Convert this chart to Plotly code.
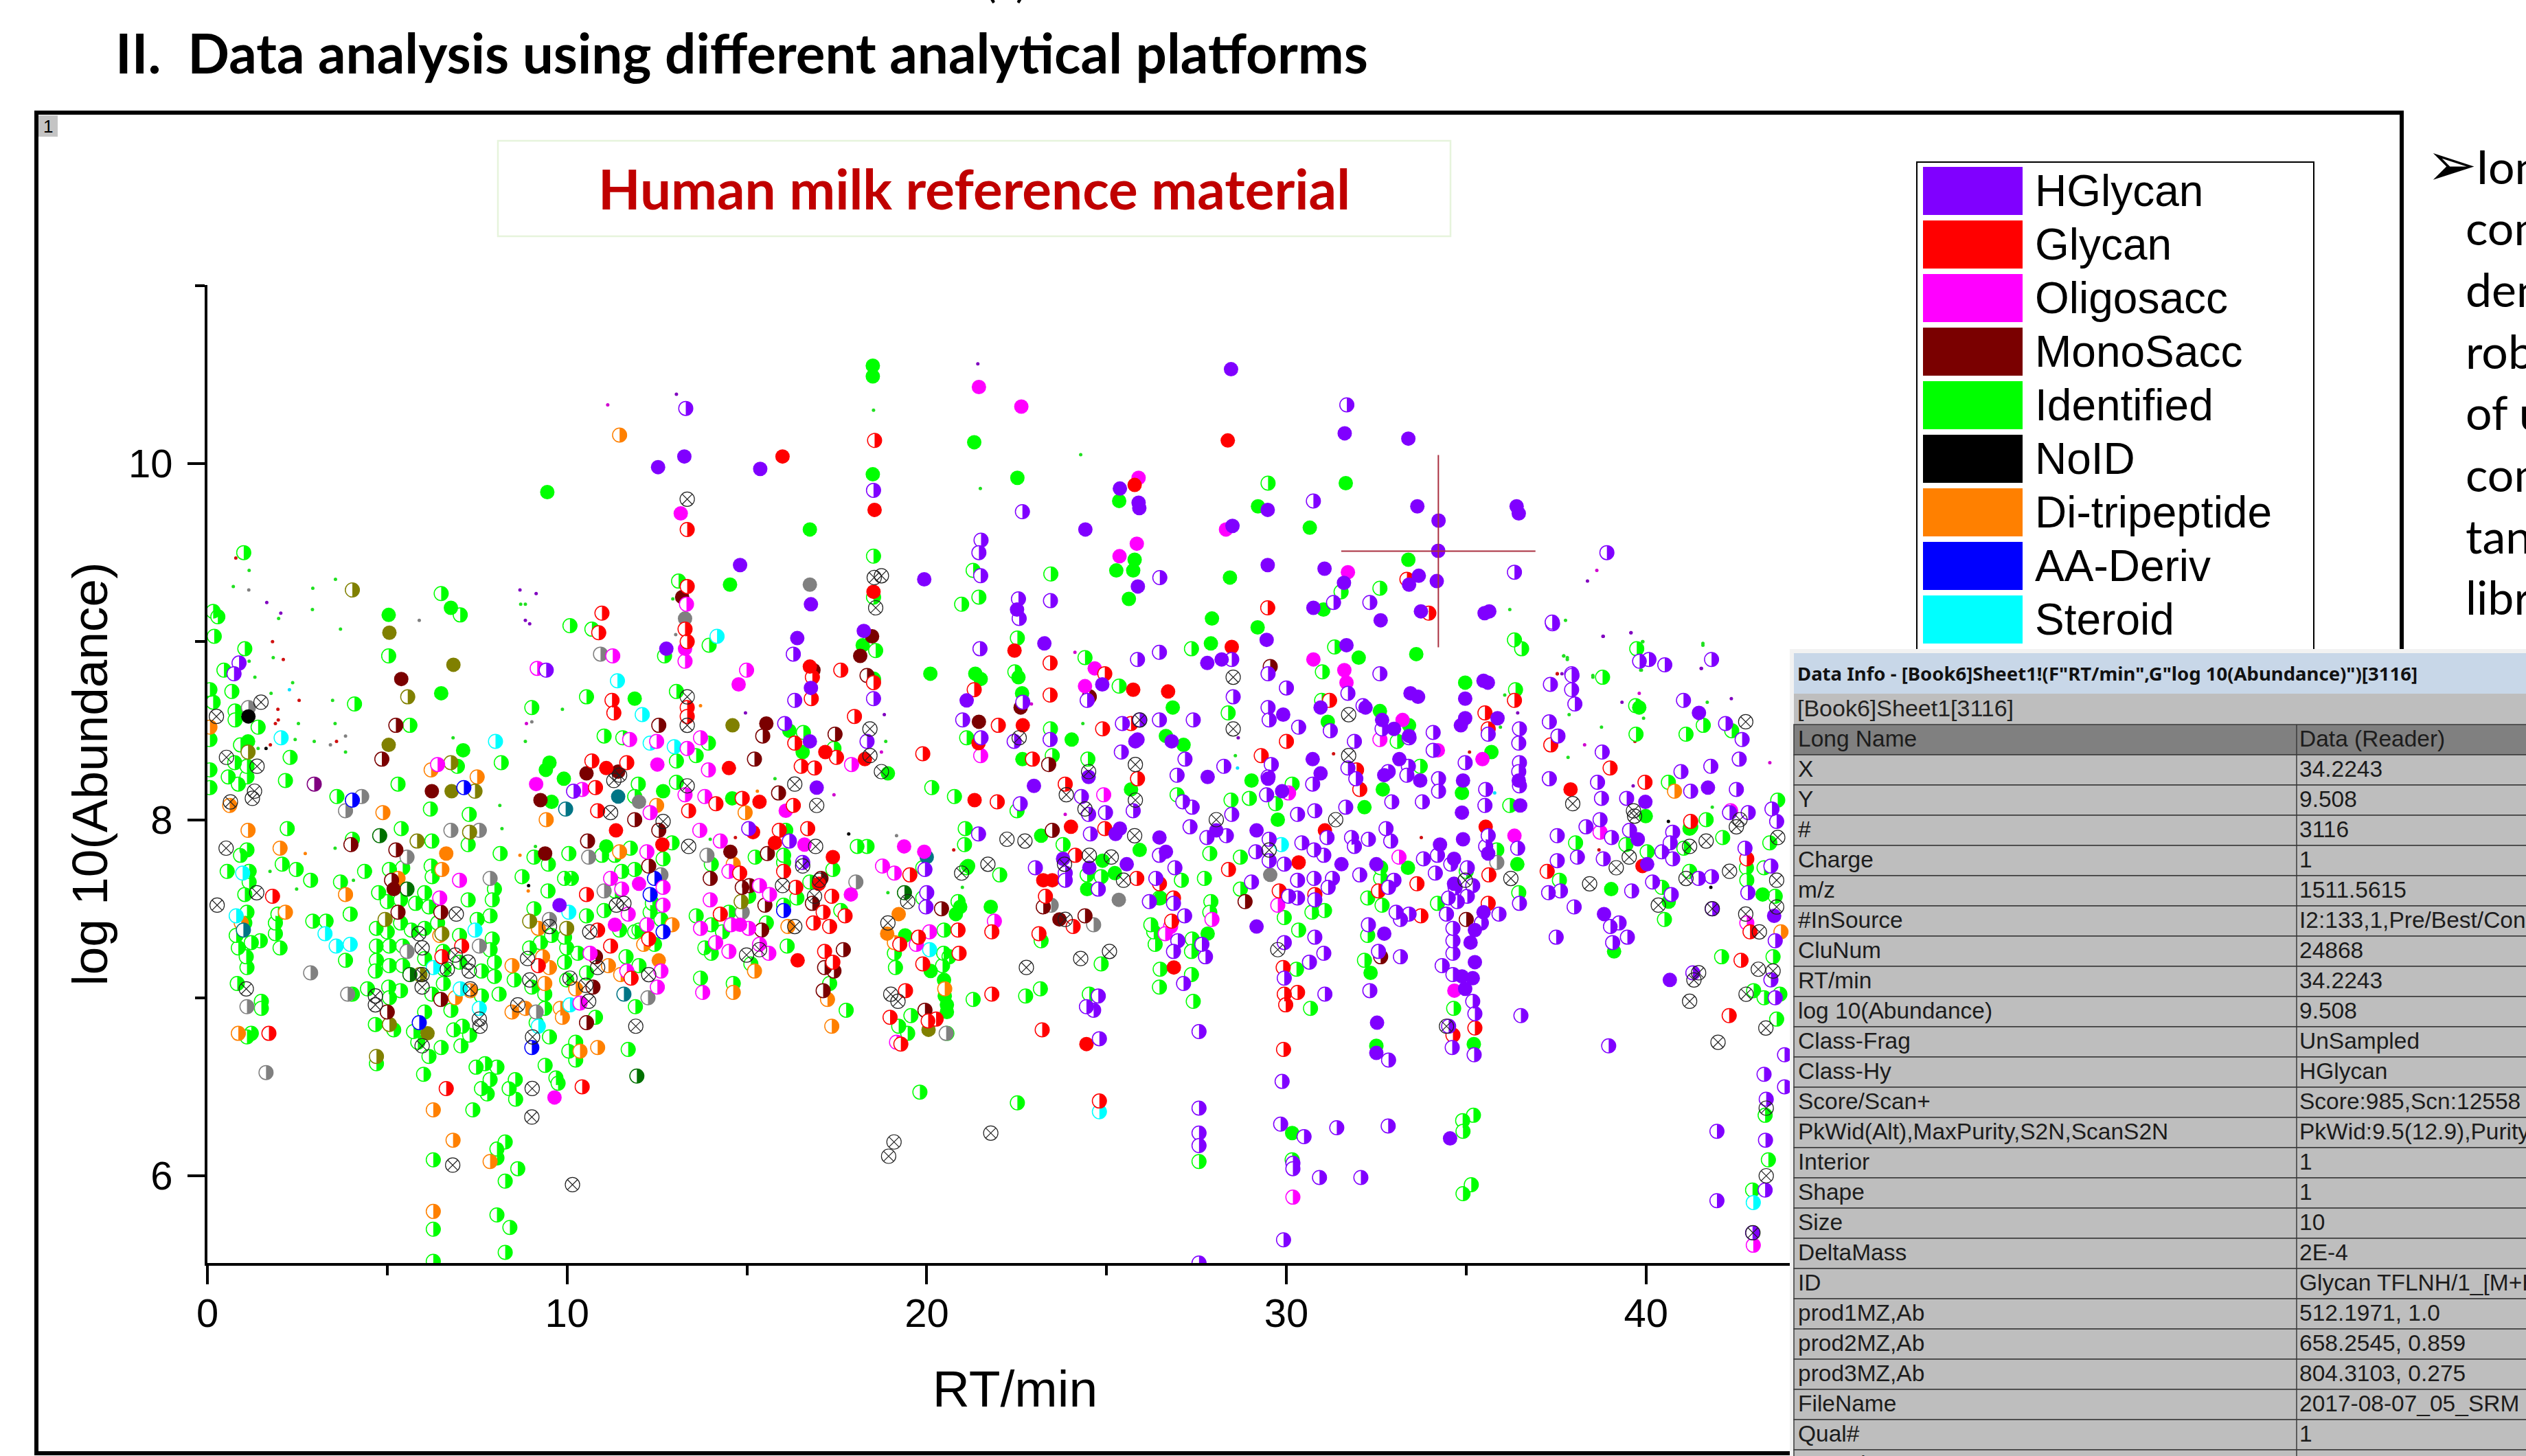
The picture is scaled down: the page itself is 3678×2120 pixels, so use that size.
import math
import numpy as np
import plotly.graph_objects as go

W, H = 3678, 2120
PAGE_TITLE = "II.  Data analysis using different analytical platforms"
CHART_TITLE = "Human milk reference material"
X_TITLE = "RT/min"
Y_TITLE = "log 10(Abundance)"

legend_names = ["HGlycan", "Glycan", "Oligosacc", "MonoSacc", "Identified", "NoID", "Di-tripeptide", "AA-Deriv", "Steroid"]
legend_colors = ["#8000FF", "#FF0000", "#FF00FF", "#7A0000", "#00FF00", "#000000", "#FF8000", "#0000FF", "#00FFFF"]

side_lines = ["Ion", "com", "den", "rob", "of u", "com", "tan", "libr"]

info_title = 'Data Info - [Book6]Sheet1!(F"RT/min",G"log 10(Abundance)")[3116]'
info_sheet = "[Book6]Sheet1[3116]"
info_names = ["Long Name", "X", "Y", "#", "Charge", "m/z", "#InSource", "CluNum", "RT/min", "log 10(Abundance)",
              "Class-Frag", "Class-Hy", "Score/Scan+", "PkWid(Alt),MaxPurity,S2N,ScanS2N", "Interior", "Shape", "Size",
              "DeltaMass", "ID", "prod1MZ,Ab", "prod2MZ,Ab", "prod3MZ,Ab", "FileName", "Qual#", "Intensity"]
info_values = ["Data (Reader)", "34.2243", "9.508", "3116", "1", "1511.5615", "I2:133,1,Pre/Best/Cons", "24868", "34.2243", "9.508",
               "UnSampled", "HGlycan", "Score:985,Scn:12558", "PkWid:9.5(12.9),Purity", "1", "1", "10",
               "2E-4", "Glycan TFLNH/1_[M+H]", "512.1971, 1.0", "658.2545, 0.859", "804.3103, 0.275", "2017-08-07_05_SRM", "1", "10"]

cross_x = 34.2243
cross_y = 9.508
cross_dx = 2.7
cross_dy = 0.54

identified_half = [(1.01,9.50),(.16,9.17),(.29,9.14),(.19,9.03),(1.04,8.96),(.46,8.84),(.68,8.72),(.07,8.73),(.16,8.66),(.77,8.61),(.77,8.56),(1.41,8.52),(.07,8.45),(.92,8.42),(.07,8.28),(.76,8.32),(.58,8.24),(.86,8.20),(.07,8.18),(1.1,8.24),(1.1,8.30),(2.3,8.35),(2.17,8.22),(3.6,8.13),(5.04,8.92),(6.5,9.27),(7.03,9.15),(4.09,8.65),(5.63,8.53),(5.3,8.2),(6.2,8.06),(6.95,8.3),(7.28,8.03),(8.17,8.32),(9.02,8.63),(10.08,9.09),(10.69,9.07),(10.54,8.69),(13.04,8.72),(13.1,9.34),(13.95,8.98),(12.71,8.92),(13.04,8.33),(13.59,8.36),(11.03,8.47),(11.55,8.46),(13.93,8.43),(16.57,8.49),(11.98,8.20),(11.88,8.13),(13.04,8.21),(18.52,9.48),(18.52,9.25),(18.58,8.95),(17.42,8.40),(18.52,8.79),
(6.28,5.52),(8.28,5.57),(6.28,5.70),(8.41,5.71),(8.05,5.78),(8.28,5.97),(8.63,6.04),(8.05,6.10),(8.05,6.15),(8.28,6.19),(6.28,6.09),(7.38,6.37),(8.57,6.43),(7.78,6.46),(7.62,6.49),(8.39,6.49),(8.56,6.54),(7.86,6.54),(6.01,6.57),(8.05,6.61),(7.72,6.63),(7.47,6.61),(9.39,6.62),(9.69,6.55),(9.75,6.52),(10.24,6.65),(10.05,6.70),(10.24,6.75),(11.7,6.71),(6.16,6.67),(4.7,6.63),(5.85,6.75),(6.5,6.72),(7.05,6.73),(7.29,6.79),(6.85,6.82),(7.09,6.84),(5.73,6.81),(4.67,6.85),(5.18,6.82),(6.04,6.92),(6.77,6.93),(9.38,6.94),(9.14,6.86),(9.51,6.78),(10.79,6.89),(11.9,6.95),(8.11,7.02),(7.62,7.01),(6.24,7.02),(6.56,7.08),(4.03,7.02),(5.37,7.04),(4.45,7.05),(5.04,7.06),(5.06,7.0),(1.1,7.17),(.83,7.08),(1.5,6.98),(1.5,6.94),(1.22,6.80),(1.1,6.78),(3.84,7.21),(2.02,7.28),(1.89,7.36),(1.89,7.42),(1.96,7.47),(2.93,7.43),(3.3,7.43),(3.97,7.47),(1.47,7.32),(1.22,7.31),(.86,7.28),(1.08,7.23),(.8,7.35),(1.04,7.42),(1.1,7.48),(1.04,7.58),(1.16,7.65),(.55,7.71),(1.16,7.71),(.92,7.80),(1.1,7.83),(2.08,7.75),(2.47,7.72),(2.87,7.66),(3.7,7.65),(4.37,7.71),(4.03,7.89),(5.39,7.95),(6.24,7.88),(7.25,7.86),(8.14,7.81),(2.22,7.95),(5.43,7.73),(5.06,7.72),(6.22,7.74),(6.25,7.68),(4.76,7.59),(5.0,7.54),(5.37,7.55),(5.79,7.53),(6.04,7.59),(6.16,7.51),(7.25,7.55),(7.98,7.61),(7.92,7.55),(7.86,7.46),(7.5,7.44),(4.7,7.39),(5.37,7.42),(5.67,7.38),(5.0,7.37),(4.7,7.29),(5.06,7.29),(5.43,7.29),(6.04,7.39),(6.4,7.42),(7.01,7.35),(7.92,7.33),(7.86,7.27),(4.7,7.21),(4.67,7.15),(5.06,7.18),(5.43,7.18),(6.04,7.22),(6.55,7.26),(6.58,7.16),(7.01,7.2),(7.62,7.15),(7.98,7.2),(7.98,7.12),(8.53,7.1),(9.02,7.06),(9.38,7.02),(9.99,7.1),(8.96,7.28),(9.26,7.31),(9.99,7.28),(10.3,7.25),(9.93,7.2),(10.54,7.14),(11.64,7.23),(12.0,7.18),(11.46,7.38),(11.88,7.37),(12.43,7.30),(13.71,7.11),(14.62,7.08),(15.11,7.19),(16.12,7.29),(13.83,7.28),(14.01,7.25),(14.32,7.37),(14.01,7.41),(14.5,7.48),(13.59,7.46),(15.54,7.42),(16.02,7.52),(16.39,7.56),(15.05,7.57),(17.3,7.08),(17.36,7.19),(17.76,6.93),(17.61,7.49),(17.39,7.72),(16.02,7.76),(16.75,7.65),(18.07,7.85),(18.34,7.85),(12.67,7.78),(11.76,7.84),(11.88,7.72),(11.52,7.71),(12.92,7.87),(14.01,7.75),(15.23,7.79),(16.02,7.80),(16.08,7.94),(10.05,7.81),(9.48,7.75),(8.75,7.68),(9.08,7.79),(9.93,7.67),(10.12,7.67),(9.47,7.60),(9.08,7.50),(10.54,7.46),(9.57,7.35),(9.93,7.34),(10.97,7.80),(11.33,7.80),(12.31,7.48),(12.0,7.38),(11.03,7.49),(11.33,7.60),(12.37,7.53),(12.61,7.44),
(29.49,9.89),(23.45,9.38),(21.29,9.40),(21.45,9.25),(20.97,9.21),(32.6,9.30),(31.52,9.28),(36.34,9.01),(36.54,8.96),(22.52,9.02),(27.36,8.96),(31.34,8.97),(24.4,8.91),(22.45,8.83),(25.35,8.75),(31.0,8.83),(36.37,8.73),(30.98,8.67),(28.38,8.6),(23.44,8.51),(21.11,8.46),(23.49,8.36),(24.48,8.34),(33.72,8.30),(33.08,8.44),(20.14,8.18),(20.77,8.13),(28.46,8.11),(28.97,8.12),(30.16,8.2),(26.96,8.14),(29.7,8.09),(22.51,8.05),(36.21,8.08),
(39.74,8.96),(38.79,8.80),(39.71,8.64),(39.72,8.48),(41.11,8.48),(41.59,8.53),(42.38,8.50),(40.62,8.21),(41.67,8.0),(38.04,7.87),(42.13,7.90),(39.44,7.86),(41.24,7.96),(41.05,7.84),(40.03,7.82),(41.21,7.71),(40.44,7.62),(40.51,7.44),(42.1,7.23),(42.79,7.73),(42.8,7.66),(42.99,7.04),(43.28,7.0),(43.72,7.02),(43.53,7.23),(43.63,6.88),(43.4,6.09),(42.96,5.92),(43.31,6.34),(43.44,7.87),(43.28,7.73),(43.66,8.11),(43.59,7.57),
(19.81,6.47),(22.52,6.41),(27.57,6.08),(30.16,6.09),(34.91,5.90),(35.14,5.95),(35.2,6.34),(34.9,6.31),(34.91,6.25),(34.65,6.94),(30.67,6.94),(27.41,6.98),(26.47,7.06),(26.49,7.16),(27.36,7.13),(24.52,7.02),(23.16,7.05),(22.75,7.01),(21.29,6.99),(24.85,7.19),(23.18,7.32),(19.56,6.9),(20.56,6.80),(19.47,6.80),(19.22,6.84),(19.13,7.17),(20.44,7.18),(19.1,7.25),(20.47,7.25),(20.62,7.23),(20.48,7.38),(21.11,7.73),(21.05,7.86),(21.07,7.95),(22.03,7.69),(23.79,7.86),(24.46,7.69),(24.85,7.68),(27.08,7.66),(27.72,7.67),(27.9,7.54),(27.87,7.48),(27.38,7.33),(27.36,7.26),(26.35,7.30),(26.31,7.37),(26.23,7.41),(26.47,7.56),(28.72,7.79),(27.87,7.81),(28.72,7.61),(29.94,7.45),(30.34,7.38),(30.71,7.48),(31.06,7.49),(32.17,7.21),(32.26,7.56),(32.26,7.35),(32.66,7.52),(32.62,7.67),(32.62,7.73),(34.2,7.53),(35.0,7.71),(36.46,7.59),(37.59,7.66),(30.28,7.16),(35.85,7.83),(20.87,7.54),(19.89,7.73),(19.89,7.56)]
identified_full = [(6.77,9.19),(5.04,9.15),(6.5,8.71),(9.45,9.84),(16.75,9.63),(14.53,9.32),(18.5,10.55),(18.5,10.49),(18.5,9.94),(7.11,8.39),(11.88,8.68),(9.51,8.32),(9.41,8.28),(9.91,8.23),(12.67,8.16),(18.22,8.98),(16.18,8.50),(16.55,8.38),(14.59,8.12),(9.57,8.10),(1.13,8.44),(11.09,7.85),
(21.32,10.12),(22.52,9.92),(25.35,9.79),(29.21,9.76),(31.65,9.89),(30.65,9.64),(25.78,9.46),(25.27,9.40),(25.74,9.40),(33.39,9.46),(28.43,9.36),(25.62,9.24),(31.03,9.18),(27.93,9.13),(29.2,9.08),(27.9,8.99),(33.61,8.93),(32.01,8.91),(20.1,8.82),(21.35,8.82),(21.5,8.79),(26.84,8.63),(22.55,8.80),(22.65,8.71),(32.6,8.61),(34.97,8.77),(31.15,8.55),(33.41,8.53),(35.7,8.38),(24.03,8.45),(27.14,8.42),(26.65,8.47),(22.66,8.34),(29.03,8.22),(32.68,8.17),(32.17,8.07),(25.68,8.17),(18.92,8.26),(29.76,8.0),(34.88,8.15),
(39.03,7.61),(39.11,7.26),(40.63,7.54),(43.24,7.58),(39.99,8.02),(41.21,7.95),(39.81,8.63),
(21.78,7.51),(20.81,7.47),(20.93,7.51),(27.81,7.36),(24.89,7.77),(25.92,7.83),(25.23,7.70),(21.15,7.74),(23.18,7.91),(33.38,7.73),(32.34,7.14),(35.21,6.74),(30.16,6.24),(32.5,6.73),(36.42,7.75),(20.11,7.15),(20.48,7.10),(20.5,7.01),(20.56,6.96),(20.56,6.92),(19.4,7.35),(24.46,7.61),(26.5,7.56)]

orange_half = [(11.46,10.16),(7.5,8.24),(6.22,8.28),(4.88,8.04),(.62,8.08),(12.49,8.08),(9.42,8.0),(14.95,8.04),(.07,8.52),(.86,6.8),(6.28,6.37),(6.83,6.20),(6.28,5.80),(7.86,6.08),(10.85,6.72),(8.47,6.92),(9.81,6.94),(9.87,6.89),(10.24,7.05),(9.38,7.08),(9.51,7.17),(9.32,7.23),(8.47,7.18),(8.84,6.94),(11.15,7.18),(11.49,7.13),(10.36,6.70),(14.62,7.03),(17.24,6.99),(17.36,6.84),(15.21,7.15),(12.92,7.41),(12.13,7.30),(16.14,7.40),(9.2,7.39),(6.46,7.35),(7.31,7.04),(6.89,7.0),(5.3,7.67),(6.52,7.72),(3.84,7.58),(2.17,7.48),(2.02,7.84),(1.13,7.94),(.94,7.42),(14.62,7.75),(11.46,7.82),(40.79,8.16),(43.75,7.37),(19.1,7.31),(20.5,7.05)]
orange_full = [(12.55,7.21),(6.64,7.81),(19.22,7.47),(18.9,7.36)]
gray_half = [(10.93,8.93),(4.29,8.13),(3.84,8.05),(1.14,8.63),(1.63,6.58),(2.87,7.14),(1.1,6.95),(3.9,7.02),(7.86,7.67),(6.77,7.94),(7.56,7.94),(5.55,7.79),(12.25,7.0),(12.61,7.69),(18.03,7.65),(5.55,7.26),(7.56,7.29),(10.6,7.79),(11.03,7.60),(9.51,7.44),(9.14,6.92),(13.89,7.80),(14.87,7.48),(35.85,7.76),(23.46,7.52),(24.64,7.41),(20.54,6.80)]
gray_full = [(16.75,9.32),(13.28,9.13),(12.0,8.1),(25.34,7.55),(29.55,7.69)]
olive_half = [(4.03,9.29),(5.57,8.69),(1.13,8.38),(7.44,8.16),(6.77,8.32),(4.7,6.67),(5.06,6.85),(5.91,7.13),(8.96,7.43),(4.94,7.44),(6.52,7.36),(7.29,7.93),(5.83,7.88),(9.99,7.39),(14.84,7.54)]
olive_full = [(5.06,9.05),(6.84,8.87),(5.04,8.42),(6.79,8.16),(14.6,8.53),(6.12,6.80),(20.05,6.82)]
cyan_half = [(11.4,8.78),(14.17,9.03),(2.05,8.46),(8.01,8.44),(12.09,8.59),(12.98,8.41),(12.31,8.43),(3.27,7.36),(3.58,7.29),(3.97,7.30),(.98,7.70),(.8,7.46),(7.44,7.38),(7.03,7.05),(7.56,6.94),(10.05,7.48),(10.08,6.96),(9.2,6.84),(6.28,7.17),(42.98,5.85),(20.08,7.27),(24.8,6.36),(29.86,7.86)]
blue_half = [(4.03,8.11),(7.13,8.18),(5.89,6.86),(9.02,6.72),(12.67,7.37),(12.31,7.58),(12.43,7.67),(16.02,7.49)]
teal_half = [(9.96,8.06),(1.0,7.38),(11.58,7.02)]
teal_full = [(11.42,8.13),(20.0,7.79)]
darkgreen_half = [(4.79,7.91),(5.55,7.61),(5.63,7.13),(11.94,6.56),(19.38,7.59)]
darkpurple_half = [(2.97,8.2)]
black_full = [(1.14,8.58)]
maroon_half = [(5.24,8.53),(4.85,8.34),(12.55,8.53),(15.44,8.47),(17.45,8.48),(15.21,8.34),(15.88,8.15),(18.34,8.81),(11.88,8.0),(10.54,6.86),(10.72,7.06),(5.0,6.92),(6.49,6.99),(5.12,7.66),(5.3,7.48),(5.24,7.83),(6.49,7.48),(10.79,7.23),(13.98,7.67),(12.27,7.74),(12.55,7.94),(10.57,7.88),(15.41,7.38),(15.5,7.52),(16.82,7.53),(15.57,7.81),(17.12,7.04),(17.42,7.15),(17.68,7.27),(17.06,7.67),(14.87,7.62),(17.16,7.17),(15.07,7.63),(3.99,7.86),(23.39,8.31),(29.55,8.86),(24.52,8.69),(20.41,7.50),(23.24,7.51),(28.85,7.54),(32.62,7.23),(35.0,7.44),(19.95,6.93),(23.49,7.94),(24.4,7.46)]
maroon_full = [(5.39,8.79),(6.24,8.16),(13.2,9.25),(10.54,8.26),(9.26,8.11),(16.85,8.84),(15.54,8.54),(18.48,9.03),(18.15,8.92),(11.42,8.27),(5.18,7.61),(9.39,7.81),(14.54,7.82),(21.45,8.55),(22.61,8.63),(23.69,7.44)]
magenta_half = [(13.32,9.21),(11.27,8.92),(13.28,8.89),(14.99,8.84),(9.17,8.85),(6.4,8.31),(12.49,8.44),(13.34,8.40),(11.74,8.45),(13.71,8.46),(13.93,8.28),(10.42,8.17),(17.91,8.31),(12.31,8.04),(13.28,8.14),(13.83,8.13),
(7.01,7.66),(6.46,7.56),(12.22,7.82),(11.21,7.67),(11.52,7.61),(11.7,7.47),(12.67,7.62),(12.67,7.52),(12.22,7.41),(12.61,7.15),(12.51,7.06),(11.66,7.15),(10.64,7.25),(10.36,6.97),(13.77,7.03),(14.26,7.88),(13.69,7.94),(14.5,7.71),(13.98,7.55),(15.35,7.63),(15.63,7.58),(14.56,7.41),(15.05,7.39),(13.71,7.39),(14.13,7.31),(14.5,7.26),(15.35,7.30),(15.61,7.25),
(21.5,8.36),(32.6,8.45),(24.92,8.14),(30.06,8.15),(38.72,7.93),(42.8,7.42),(42.98,5.61),(42.35,8.05),(19.1,7.70),(18.77,7.74),(21.88,7.43),(29.76,7.52),(30.18,5.88),(19.16,6.75),(27.93,7.44),(26.78,7.40),(33.13,7.79),(19.71,7.30),(26.63,7.36),(20.08,7.37)]
magenta_full = [(13.16,9.72),(14.77,8.76),(13.28,8.96),(9.14,8.2),(12.51,8.31),(16.08,8.05),(9.65,6.44),(12.0,7.64),(14.81,7.41),(16.6,7.86),(17.89,7.58),(11.33,7.41),
(21.45,10.43),(22.63,10.32),(25.89,9.92),(25.84,9.55),(25.36,9.48),(28.32,9.63),(31.71,9.39),(30.75,8.9),(31.61,8.84),(31.67,8.77),(24.67,8.85),(24.4,8.75),(35.45,8.34),(33.23,8.56),(34.21,8.39),(19.37,7.85),(19.93,7.82),(36.34,7.91),(34.67,7.04)]
red_half = [(13.34,9.63),(13.34,9.31),(13.28,9.07),(13.34,9.0),(10.97,9.16),(10.88,9.05),(18.55,10.13),(11.25,8.67),(11.3,8.6),(13.34,8.63),(13.34,8.58),(17.61,8.84),(16.82,8.80),(16.79,8.68),(17.99,8.58),(16.33,8.43),(16.51,8.30),(16.88,8.29),(10.69,8.33),(10.79,8.18),(11.66,8.32),(17.49,8.35),(18.52,8.77),(16.29,8.08),(14.14,8.09),(14.87,8.12),(13.38,8.05),(10.85,8.05),
(1.71,6.80),(6.64,6.49),(10.42,6.50),(1.81,7.57),(11.78,7.11),(12.27,7.33),(11.21,7.29),(10.85,7.38),(10.54,7.58),(6.52,7.23),(7.07,7.29),(9.2,7.18),(17.16,7.26),(17.39,7.2),(16.85,7.42),(17.3,7.40),(17.36,7.57),(17.73,7.46),(16.02,7.71),(14.8,7.70),(16.36,7.62),(14.26,7.47),(17.12,7.48),(16.69,7.95),(15.9,7.94),
(33.35,9.35),(29.48,9.19),(33.96,9.16),(23.43,8.88),(24.95,8.82),(21.32,8.73),(23.43,8.70),(31.2,8.67),(21.99,8.53),(24.89,8.51),(25.68,8.54),(35.52,8.60),(36.34,8.67),(30.0,8.44),(19.89,8.37),(22.94,8.34),(29.3,8.36),(23.85,8.2),(25.86,8.23),(32.04,8.17),(21.96,8.10),(37.35,8.42),(31.95,8.28),(35.61,8.51),
(39.0,8.29),(39.97,8.21),(42.64,7.21),(42.31,6.90),(41.24,7.99),(42.8,7.78),(42.89,7.37),
(24.8,6.42),(23.21,6.82),(29.92,6.71),(34.63,6.79),(35.24,6.83),(30.31,7.03),(29.94,7.02),(29.98,6.96),(29.91,7.17),(21.81,7.02),(19.41,7.04),(18.98,6.89),(20.04,6.87),(20.26,6.88),(19.28,6.74),(19.25,7.30),(20.9,7.25),(20.87,7.38),(21.81,7.37),(23.12,7.36),(24.07,7.40),(23.3,7.57),(26.86,7.56),(26.81,7.43),(25.84,7.67),(24.13,7.80),(28.39,7.72),(29.8,7.60),(30.79,7.58),(33.63,7.64),(33.74,7.46),(35.63,7.69),(37.25,7.71),(35.61,7.53),(32.56,7.60),(19.89,7.19),(19.77,7.34),(19.53,7.69),(24.95,7.95),(26.47,7.64)]
red_full = [(15.99,10.04),(18.55,9.74),(14.5,8.29),(11.09,8.29),(16.75,8.86),(17.18,8.38),(18.28,8.34),(18.52,9.28),(15.35,8.10),(11.36,7.94),(16.41,7.21),(12.65,7.86),(15.78,7.87),(17.39,7.79),(15.17,7.93),(17.0,7.64),
(28.37,10.13),(25.78,9.88),(28.48,8.97),(22.44,8.95),(25.74,8.73),(26.71,8.72),(22.67,8.53),(21.33,8.11),(21.44,8.43),(37.9,8.17),(39.9,7.74),(24.44,6.74),(26.87,7.17),(23.24,7.66),(23.49,7.66),(30.34,7.76),(24.01,7.96),(31.07,7.94),(35.54,7.96)]
hglycan_half = [(13.3,10.31),(18.52,9.85),(16.29,8.93),(9.42,8.84),(.88,8.88),(.74,8.82),(16.33,8.67),(16.05,8.54),(18.34,8.44),(18.52,8.68),(10.18,8.16),(15.05,7.95),(16.18,7.88),(16.55,7.76),
(31.68,10.33),(30.75,9.79),(22.66,9.73),(21.51,9.57),(21.45,9.50),(21.5,9.37),(26.48,9.36),(36.34,9.39),(31.31,9.22),(32.32,9.22),(22.55,9.24),(23.44,9.23),(22.57,9.13),(37.4,9.10),(21.48,8.96),(26.47,8.94),(25.86,8.9),(28.48,8.9),(32.6,8.82),(29.49,8.82),(30.0,8.74),(31.71,8.71),(24.46,8.67),(22.67,8.66),(28.52,8.69),(32.13,8.64),(37.34,8.76),(29.49,8.63),(29.52,8.56),(21.0,8.56),(25.44,8.54),(26.47,8.56),(27.41,8.56),(25.92,8.56),(30.34,8.52),(31.22,8.50),(32.66,8.51),(34.08,8.49),(36.48,8.51),(37.31,8.55),(21.51,8.46),(22.43,8.44),(23.43,8.45),(31.89,8.44),(33.41,8.46),(35.61,8.48),(36.46,8.43),(34.08,8.39),(37.55,8.47),(25.41,8.38),(27.18,8.34),(34.97,8.32),(31.71,8.29),(32.83,8.27),(33.39,8.30),(33.35,8.25),(36.48,8.32),(36.46,8.27),(26.96,8.25),(28.26,8.30),(29.58,8.31),(29.49,8.24),(31.93,8.23),(34.23,8.23),(37.31,8.23),(29.45,8.14),(30.73,8.2),(34.23,8.16),(35.54,8.17),(36.48,8.19),(27.12,8.10),(27.38,8.07),(28.48,8.03),(32.93,8.10),(31.65,8.07),(33.78,8.10),(30.79,8.05),(35.52,8.08),(22.6,8.09),(30.31,8.03),(24.97,8.04),(25.74,8.05),(24.3,8.13),(24.5,8.03),
(38.91,9.50),(37.39,9.11),(37.93,8.82),
(37.94,8.81),(37.93,8.73),(38.02,8.65),(39.82,8.89),(40.08,8.90),(40.52,8.87),(41.82,8.9),(41.04,8.67),(42.21,8.54),(42.67,8.45),(42.59,8.34),(38.78,8.38),(41.8,8.30),(40.97,8.27),(38.65,8.21),(38.76,8.12),(39.46,8.12),(41.24,8.16),(42.51,8.17),(38.72,8.0),(38.33,7.96),(39.04,7.90),(39.54,7.94),(38.09,7.79),(38.81,7.78),(40.44,7.82),(40.74,7.93),(40.67,7.87),(40.74,7.78),(40.18,7.65),(41.46,7.67),(41.82,7.68),(40.7,7.58),(39.6,7.6),(38.0,7.51),(39.01,7.40),(39.25,7.42),(39.48,7.34),(39.07,7.31),(38.96,6.73),(41.97,6.25),(41.97,5.86),(42.32,8.04),(42.84,8.04),(42.75,7.84),(41.3,7.14),(41.84,7.50),(43.32,6.2),(43.28,6.57),(43.34,6.43),(43.31,5.92),(42.96,5.68),(43.59,7.0),(43.59,7.32),(43.85,6.68),(43.85,6.5),(43.5,8.06),(43.63,7.99),(43.47,7.74),(42.83,7.59),(43.47,7.1),
(27.57,5.51),(29.92,5.64),(32.07,5.99),(30.92,5.99),(30.18,6.07),(30.18,6.04),(30.49,6.22),(31.4,6.27),(32.83,6.28),(29.84,6.29),(29.88,6.53),(27.57,6.38),(27.57,6.24),(27.57,6.17),(27.57,6.81),(36.52,6.90),(32.84,6.65),(35.22,6.68),(34.61,6.72),(24.8,6.77),(24.64,6.93),(24.44,6.95),(24.77,7.01),(32.32,7.04),(31.07,7.02),(29.94,7.11),(29.94,7.31),(31.04,7.25),(30.79,7.34),(30.64,7.2),(27.14,7.08),(27.75,7.23),(27.65,7.30),(26.98,7.32),(26.86,7.26),(33.17,7.23),(32.28,7.41),(32.56,7.26),(35.18,6.98),(35.24,6.91),(34.51,6.84),(34.33,7.18),(34.63,7.13),(34.63,7.25),(34.63,7.32),(34.63,7.39),(37.5,7.34),(34.51,7.56),(34.45,7.47),(33.41,7.47),(33.17,7.44),(33.05,7.48),(35.91,7.47),(35.03,7.57),(35.42,7.42),(37.29,7.59),(37.62,7.60),(36.48,7.53),(26.19,7.54),(26.86,7.53),(27.17,7.46),(19.98,7.51),(20.0,7.59),(19.95,7.72),(24.77,7.61),(23.85,7.70),(23.85,7.66),(23.02,7.73),(26.37,7.67),(26.9,7.73),(26.47,7.80),(24.55,7.92),(21.44,7.92),(27.32,7.96),(27.79,7.90),(28.33,7.91),(29.52,7.89),(29.15,7.82),(29.52,7.77),(29.94,7.75),(30.43,7.87),(30.77,7.83),(31.04,7.80),(31.13,7.90),(31.81,7.90),(32.28,7.89),(31.89,7.85),(32.9,7.88),(32.77,7.95),(33.81,7.78),(34.2,7.80),(35.54,7.85),(35.61,7.91),(36.43,7.84),(37.53,7.91),(37.53,7.77),(34.14,7.70),(32.99,7.66),(32.04,7.69),(31.28,7.67),(30.77,7.67),(30.31,7.66),(31.16,7.62),(29.03,7.65),(30.79,7.55),(30.31,7.56),(30.06,7.57),(32.84,7.62),(35.18,7.63),(34.69,7.62),(34.75,7.54),(35.03,7.73),(34.57,7.75)]
hglycan_full = [(12.53,9.98),(13.26,10.04),(15.37,9.97),(14.81,9.43),(16.78,9.21),(16.4,9.02),(18.25,9.06),(12.76,8.96),(16.75,8.44),(16.78,8.74),(16.94,8.18),(9.79,7.52),
(28.46,10.53),(31.62,10.17),(33.39,10.14),(33.64,9.76),(34.23,9.68),(34.22,9.51),(34.18,9.34),(36.4,9.76),(36.46,9.72),(29.48,9.74),(25.37,9.86),(25.89,9.78),(25.91,9.75),(24.41,9.63),(28.5,9.65),(29.48,9.43),(31.06,9.41),(31.6,9.33),(33.68,9.37),(33.41,9.32),(19.93,9.35),(25.87,9.31),(30.75,9.19),(32.62,9.12),(33.74,9.17),(35.51,9.16),(35.64,9.17),(29.45,9.01),(31.67,8.98),(23.27,8.99),(24.88,8.76),(27.8,8.88),(28.2,8.90),(21.11,8.67),(22.51,9.18),(35.48,8.78),(35.6,8.77),(33.45,8.71),(33.66,8.69),(34.97,8.68),(29.91,8.59),(30.95,8.63),(32.2,8.63),(32.66,8.56),(32.99,8.51),(33.41,8.47),(34.97,8.57),(34.85,8.53),(35.87,8.57),(25.86,8.45),(25.8,8.44),(26.81,8.44),(22.98,8.19),(27.81,8.24),(24.5,8.24),(30.73,8.34),(30.95,8.26),(29.49,8.23),(32.72,8.25),(33.14,8.34),(33.72,8.22),(34.91,8.22),(36.46,8.22),(29.88,8.16),(36.5,8.08),(34.88,8.04),
(41.47,8.6),(41.72,8.18),(39.98,8.1),(39.77,7.89),(40.03,7.75),(38.83,7.47),(40.66,7.1),(43.56,7.46),
(25.37,7.95),(26.47,7.90),(26.65,7.82),(25.56,7.75),(24.52,7.73),(25.25,7.92),(23.79,7.78),(29.17,7.40),(31.53,7.75),(29.17,7.94),(28.05,7.94),(34.27,7.86),(34.66,7.78),(34.91,7.89),(34.66,7.64),(32.52,6.86),(32.5,6.69),(34.55,6.21),(35.12,7.31),(32.72,7.36),(35.24,7.38),(35.48,7.48),(35.24,7.2),(35.18,7.11),(34.88,7.12),(34.97,7.05),(32.5,7.75),(35.61,7.81)]
noid_crossed = [(13.34,9.80),(.25,8.58),(1.49,8.66),(.53,8.35),(1.38,8.30),(1.31,8.16),(1.25,8.12),(.64,8.10),(13.34,8.69),(13.34,8.53),(13.34,8.19),(11.46,8.25),(11.3,8.22),(11.21,8.04),(16.33,8.20),(16.94,8.08),(18.42,8.51),(18.42,8.36),(18.54,9.36),(18.58,9.19),(12.67,7.99),
(.52,7.84),(1.37,7.59),(.27,7.52),(1.08,7.05),(4.67,7.01),(4.67,6.96),(5.88,7.36),(5.97,7.28),(6.89,7.24),(6.67,7.16),(7.25,7.2),(7.28,7.15),(5.97,7.06),(7.31,7.05),(7.56,6.88),(7.58,6.84),(5.97,6.73),(6.82,6.06),(9.03,6.49),(9.02,6.33),(10.15,5.95),(11.91,6.84),(9.04,6.78),(8.63,6.96),(10.08,7.11),(10.85,7.17),(12.27,7.13),(8.96,7.1),(8.9,7.22),(10.63,7.37),(10.6,6.98),(10.52,7.07),(11.37,7.52),(11.58,7.53),(13.38,7.85),(15.99,7.63),(16.33,7.40),(14.99,7.24),(15.35,7.27),(16.55,7.74),(16.88,7.57),(17.02,7.66),(16.91,7.85),(5.97,7.13),(6.92,7.47),(9.51,7.40),
(28.52,8.80),(28.52,8.51),(31.73,8.59),(25.92,8.56),(22.57,8.46),(24.5,8.27),(23.88,8.14),(25.8,8.31),(25.8,8.11),(31.73,8.36),(28.05,8.0),(31.37,8.0),(24.4,8.06),(18.74,8.27),(18.74,9.37),
(37.96,8.09),(39.65,8.05),(39.68,8.02),(39.17,7.73),(39.53,7.79),(38.43,7.64),(40.34,7.52),(41.11,7.67),(41.21,7.85),(41.67,7.88),(42.32,7.71),(41.84,7.50),(41.46,7.14),(41.33,7.10),(41.21,6.98),(42.0,6.75),(42.77,8.55),(42.51,7.96),(42.61,8.0),(43.66,7.9),(42.77,7.47),(43.15,7.37),(43.12,7.16),(43.53,7.15),(42.78,7.02),(43.33,6.83),(43.34,6.38),(43.34,6.0),(42.97,5.68),(43.63,7.66),(43.63,7.51),
(22.23,7.89),(22.73,7.88),(25.78,7.91),(21.7,7.75),(20.97,7.70),(24.52,7.80),(25.13,7.79),(23.83,7.75),(25.47,7.66),(19.47,7.54),(18.92,7.42),(19.0,7.02),(19.2,6.98),(24.28,7.22),(25.08,7.26),(22.77,7.17),(19.09,6.19),(18.94,6.11),(21.78,6.24),(29.76,7.27),(29.52,7.83),(36.24,7.67),(34.45,6.84),(34.97,7.66),(23.85,7.44)]

small_green = [(1.16,9.40),(.72,9.31),(2.93,9.30),(3.56,9.35),(1.98,9.13),(2.92,9.18),(3.7,9.07),(1.83,8.91),(1.16,8.89),(1.32,8.80),(2.37,8.77),(1.77,8.71),(3.48,8.67),(2.53,8.54),(3.55,8.54),(2.44,8.45),(2.97,8.44),(3.84,8.38),(1.41,8.40),(8.71,9.21),(8.84,9.21),(18.52,10.30),(6.83,8.46),(8.84,8.44),(9.87,8.62),(8.13,8.08),(12.94,9.24),(15.78,8.23),(3.55,7.84),(1.74,7.71),(4.06,7.66),(2.48,7.61),(9.12,7.85),(8.19,7.95),(13.98,7.89),(24.28,10.05),(21.49,9.86),(36.21,9.18),(24.34,8.54),(28.58,8.36),(35.95,8.52),(18.86,8.44),(37.71,8.92),(36.07,8.70),(37.76,9.12),(39.9,9.0),(41.58,8.98),(37.71,8.92),(37.81,8.9),(38.52,8.8),(39.85,8.84),(38.52,8.81),(37.86,8.59),(38.76,8.52),(39.93,8.57),(37.81,8.91),(37.83,8.35),(39.91,9.0),(39.87,8.84),(41.58,8.99),(41.7,8.66),(41.84,8.07),(20.99,7.62),(18.92,7.59)]
small_purple = [(1.65,9.22),(2.04,9.16),(8.69,9.29),(9.14,9.27),(8.84,9.12),(8.96,9.10),(13.04,10.39),(14.96,8.60),(21.42,10.56),(28.66,8.46),(18.82,8.59),(36.43,8.6),(38.37,9.34),(38.8,9.03),(39.58,9.05),(37.66,8.82),(41.53,8.85),(38.81,9.03),(39.58,9.05),(41.54,8.85),(39.33,8.66),(42.37,8.68),(39.64,8.19)]
small_red = [(.79,9.47),(1.81,9.0),(2.11,8.9),(2.55,8.67),(1.96,8.62),(1.97,8.56),(1.89,8.54),(1.75,8.42),(3.59,8.44),(31.31,8.37),(35.09,8.38),(37.53,8.82),(37.53,8.82),(39.69,8.44),(38.69,7.83),(20.75,7.83),(33.75,7.90),(14.68,7.90)]
small_magenta = [(11.13,10.33),(8.87,8.54),(17.42,8.14),(24.12,8.94),(22.91,8.65),(18.74,8.38),(23.85,8.03),(38.63,9.4),(38.29,8.42),(39.81,8.71),(43.44,8.32)]
small_gray = [(1.15,9.29),(3.42,8.42),(3.84,8.47),(5.89,9.12),(9.02,8.55),(13.02,9.04),(19.16,7.91)]
small_orange = [(13.71,8.64),(15.29,8.16),(2.72,7.81),(8.69,7.80),(8.92,7.6)]
small_cyan = [(2.28,8.73),(28.64,8.29),(35.79,8.15)]
small_black = [(1.63,8.40),(17.83,7.92),(8.93,7.63),(40.62,7.99),(41.8,7.62)]

PX_X = 52.37
PX_Y = 259.25
X_LEFT, X_RIGHT, Y_TOP, Y_BOTTOM = 302, 2654, 415, 1839


def xp(px):
    return px / W


def yp(py):
    return 1 - py / H


fig = go.Figure()
RADIUS = 10.5
ANGLES = np.linspace(-math.pi / 2, math.pi / 2, 11)


def half_traces(points, color):
    if not points:
        return
    xs = [p[0] for p in points]
    ys = [p[1] for p in points]
    fig.add_trace(go.Scatter(x=xs, y=ys, mode="markers", showlegend=False, hoverinfo="skip",
                             marker=dict(symbol="circle", size=20.5, color="white", line=dict(color=color, width=1.5))))
    px, py = [], []
    for x, y in points:
        px += [x + RADIUS / PX_X * math.cos(a) for a in ANGLES] + [None]
        py += [y + RADIUS / PX_Y * math.sin(a) for a in ANGLES] + [None]
    fig.add_trace(go.Scatter(x=px, y=py, mode="lines", fill="toself", fillcolor=color, showlegend=False,
                             hoverinfo="skip", line=dict(width=0, color=color)))


def full_trace(points, color):
    if points:
        fig.add_trace(go.Scatter(x=[p[0] for p in points], y=[p[1] for p in points], mode="markers", showlegend=False,
                                 marker=dict(symbol="circle", size=21, color=color, line=dict(width=0))))


def small_trace(points, color):
    fig.add_trace(go.Scatter(x=[p[0] for p in points], y=[p[1] for p in points], mode="markers", showlegend=False,
                             marker=dict(symbol="circle", size=5, color=color, line=dict(width=0))))


for pts, c in [(small_green, "#20E020"), (small_purple, "#8000C0"), (small_red, "#D01010"), (small_magenta, "#D000D0"),
               (small_gray, "#808080"), (small_orange, "#FF8000"), (small_cyan, "#00E0FF"), (small_black, "#000000")]:
    small_trace(pts, c)

half_traces(identified_half, "#00FF00")
full_trace(identified_full, "#00FF00")
half_traces(orange_half, "#FF8000")
full_trace(orange_full, "#FF8000")
half_traces(gray_half, "#808080")
full_trace(gray_full, "#808080")
half_traces(olive_half, "#808000")
full_trace(olive_full, "#808000")
half_traces(cyan_half, "#00FFFF")
half_traces(blue_half, "#0000FF")
half_traces(teal_half, "#007585")
full_trace(teal_full, "#007585")
half_traces(darkgreen_half, "#007000")
half_traces(darkpurple_half, "#800080")
full_trace(black_full, "#000000")
half_traces(maroon_half, "#7A0000")
full_trace(maroon_full, "#7A0000")
half_traces(magenta_half, "#FF00FF")
full_trace(magenta_full, "#FF00FF")
half_traces(red_half, "#FF0000")
full_trace(red_full, "#FF0000")
half_traces(hglycan_half, "#8000FF")
full_trace(hglycan_full, "#8000FF")
fig.add_trace(go.Scatter(x=[p[0] for p in noid_crossed], y=[p[1] for p in noid_crossed], mode="markers", showlegend=False,
                         marker=dict(symbol="circle-x-open", size=21, color="#222222", line=dict(width=1.2, color="#222222"))))

fig.add_trace(go.Scatter(x=[cross_x - cross_dx, cross_x + cross_dx, None, cross_x, cross_x],
                         y=[cross_y, cross_y, None, cross_y + cross_dy, cross_y - cross_dy],
                         mode="lines", showlegend=False, hoverinfo="skip", line=dict(color="#AA3040", width=2)))

shapes = []
annotations = []


def rect(x0, y0, x1, y1, fill=None, line=None, lw=0, layer="above"):
    shapes.append(dict(type="rect", xref="paper", yref="paper", x0=xp(x0), x1=xp(x1), y0=yp(y1), y1=yp(y0),
                       fillcolor=fill if fill else "rgba(0,0,0,0)", line=dict(color=line if line else "rgba(0,0,0,0)", width=lw), layer=layer))


def text(x, y, s, size, color="#000000", family="Liberation Sans", anchor="left", bold=False):
    annotations.append(dict(xref="paper", yref="paper", x=xp(x), y=yp(y), text=f"<b>{s}</b>" if bold else s, showarrow=False,
                            xanchor=anchor, yanchor="middle", align=anchor, borderpad=0,
                            font=dict(size=size, color=color, family=family)))


# outer frame, tag and chart title
rect(53, 164, 3497, 2116, None, "#000000", 6)
rect(56, 168, 84, 199, "#C4C4C4")
text(70, 184, "1", 26, anchor="center")
rect(725, 205, 2112, 344, "#FFFFFF", "#E6F4DC", 2.5, layer="below")
text(1418, 274, CHART_TITLE, 80, "#C00000", "Lato", "center", True)
text(167, 76, PAGE_TITLE, 80, "#000000", "Lato", "left", True)
text(1465, -28, "(a)", 62, "#000000", "Lato", "center")

# legend
rect(2791, 236, 3369, 1000, "#FFFFFF", "#000000", 2)
for i, (name, color) in enumerate(zip(legend_names, legend_colors)):
    top = 243 + i * 78
    rect(2800, top, 2945, top + 70, color)
    text(2962, top + 35, name, 64)

# side text
text(3570, 240, "➢", 88, family="DejaVu Sans", anchor="center")
for i, s in enumerate(side_lines):
    text(3604 if i == 0 else 3589, 241 + i * 89.7, s, 68, "#000000", "Lato")

# data-info window
TOP, HEAD, ROW = 945, 1055, 44
rect(2606, TOP, 3680, 2125, "#F2F2F2")
rect(2612, 951, 3680, 1010, "#C8D7E8")
rect(2612, 1010, 3680, 1055, "#BEBEBE")
text(2616, 980, info_title, 27.5, "#111111", "Noto Sans", bold=True)
text(2616, 1031, info_sheet, 34, "#222222")
for i, (name, value) in enumerate(zip(info_names, info_values)):
    y0 = HEAD + i * ROW
    rect(2612, y0, 3680, y0 + ROW, "#808080" if i == 0 else "#BEBEBE", "#3A3A3A", 1.5)
    text(2617, y0 + ROW / 2 - 2, name, 33.5, "#1C1C1C")
    text(3347, y0 + ROW / 2 - 2, value, 33.5, "#1C1C1C")
shapes.append(dict(type="line", xref="paper", yref="paper", x0=xp(3344), x1=xp(3344), y0=yp(2125), y1=yp(HEAD),
                   line=dict(color="#3A3A3A", width=1.5), layer="above"))

AXIS_FONT = dict(family="Liberation Sans", size=58, color="#000000")
fig.update_layout(
    width=W, height=H, margin=dict(l=0, r=0, t=0, b=0, pad=0, autoexpand=False), paper_bgcolor="white", plot_bgcolor="white",
    showlegend=False, shapes=shapes, annotations=annotations, hovermode=False,
    xaxis=dict(domain=[xp(X_LEFT), xp(X_RIGHT)], range=[0, (X_RIGHT - X_LEFT) / PX_X], dtick=10, tick0=0, ticks="outside", ticklen=27, tickwidth=4,
               tickcolor="#000000", showline=True, linecolor="#000000", linewidth=4, showgrid=False, zeroline=False,
               tickfont=AXIS_FONT, ticklabelstandoff=-8, automargin=False,
               minor=dict(dtick=5, tick0=0, ticks="outside", ticklen=14, tickwidth=4, tickcolor="#000000", showgrid=False),
               title=dict(text=X_TITLE, font=dict(family="Liberation Sans", size=75, color="#000000"), standoff=54)),
    yaxis=dict(domain=[yp(Y_BOTTOM), yp(Y_TOP)], range=[10 - (Y_BOTTOM - 675) / PX_Y, 10 - (Y_TOP - 675) / PX_Y], dtick=2, tick0=6,
               ticks="outside", ticklen=25, tickwidth=4, tickcolor="#000000", showline=True, linecolor="#000000", linewidth=4,
               showgrid=False, zeroline=False, tickfont=AXIS_FONT, ticklabelstandoff=10, automargin=False,
               minor=dict(dtick=1, tick0=5, ticks="outside", ticklen=14, tickwidth=4, tickcolor="#000000", showgrid=False),
               title=dict(text=Y_TITLE, font=dict(family="Liberation Sans", size=73, color="#000000"), standoff=7)),
)

fig.write_html("out.html", config=dict(displayModeBar=False),
               post_script="document.body.style.margin='0';document.documentElement.style.overflow='hidden';")
